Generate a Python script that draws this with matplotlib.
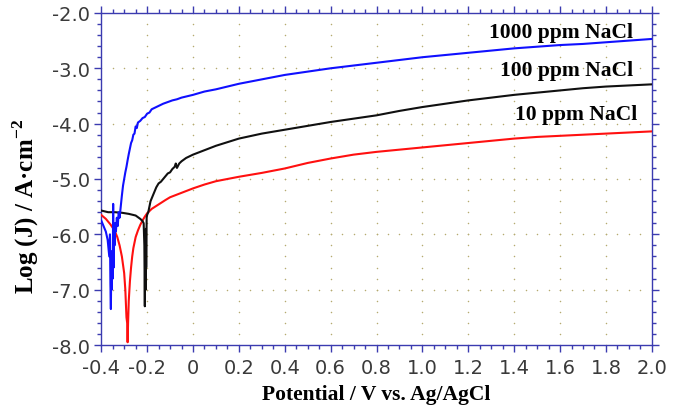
import numpy
from matplotlib import pyplot
from matplotlib.ticker import MultipleLocator, FixedLocator

# 1000 ppm NaCl (blue)
x_1000 = [-0.40, -0.39, -0.38, -0.372, -0.365, -0.362, -0.36, -0.358, -0.356, -0.354,
          -0.352, -0.35, -0.348, -0.346, -0.344, -0.342, -0.34, -0.336, -0.332, -0.328,
          -0.324, -0.32, -0.315, -0.31, -0.305, -0.30, -0.295, -0.29, -0.285, -0.28,
          -0.275, -0.27, -0.265, -0.26, -0.255, -0.25, -0.245, -0.24, -0.23, -0.22,
          -0.21, -0.20, -0.19, -0.18, -0.17, -0.16, -0.15, -0.13, -0.11, -0.09,
          -0.07, -0.05, -0.03, 0.0, 0.05, 0.1, 0.15, 0.2, 0.3, 0.4,
          0.5, 0.6, 0.7, 0.8, 0.9, 1.0, 1.1, 1.2, 1.3, 1.4,
          1.5, 1.6, 1.7, 1.8, 1.9, 2.0]
y_1000 = [-5.75, -5.85, -5.95, -6.1, -6.4, -6.0, -6.9, -7.35, -6.5, -7.0,
          -6.3, -6.8, -5.45, -6.6, -5.9, -6.2, -5.8, -5.95, -5.7, -5.85,
          -5.6, -5.7, -5.5, -5.3, -5.12, -5.0, -4.88, -4.78, -4.66, -4.55,
          -4.45, -4.35, -4.3, -4.2, -4.18, -4.05, -4.08, -3.98, -3.95, -3.9,
          -3.88, -3.82, -3.8, -3.74, -3.72, -3.7, -3.68, -3.64, -3.61, -3.58,
          -3.56, -3.53, -3.51, -3.48, -3.42, -3.38, -3.33, -3.28, -3.2, -3.12,
          -3.06, -3.0, -2.95, -2.9, -2.85, -2.8, -2.76, -2.72, -2.68, -2.64,
          -2.61, -2.58, -2.56, -2.53, -2.5, -2.47]

# 100 ppm NaCl (black)
x_100 = [-0.40, -0.37, -0.34, -0.31, -0.28, -0.25, -0.23, -0.22, -0.215, -0.212,
         -0.21, -0.208, -0.206, -0.205, -0.204, -0.202, -0.20, -0.195, -0.19, -0.185,
         -0.18, -0.17, -0.16, -0.15, -0.14, -0.13, -0.12, -0.11, -0.10, -0.09,
         -0.08, -0.075, -0.07, -0.06, -0.05, -0.03, 0.0, 0.05, 0.1, 0.2,
         0.3, 0.4, 0.5, 0.6, 0.7, 0.8, 0.9, 1.0, 1.1, 1.2,
         1.3, 1.4, 1.5, 1.6, 1.7, 1.8, 1.9, 2.0]
y_100 = [-5.57, -5.6, -5.6, -5.61, -5.63, -5.66, -5.72, -5.76, -5.8, -6.2,
         -7.3, -6.0, -7.0, -5.9, -6.6, -5.7, -5.65, -5.6, -5.5, -5.4,
         -5.35, -5.25, -5.15, -5.08, -5.05, -5.0, -4.95, -4.9, -4.88, -4.82,
         -4.78, -4.72, -4.8, -4.72, -4.68, -4.62, -4.56, -4.48, -4.4, -4.27,
         -4.18, -4.11, -4.04, -3.97, -3.91, -3.85, -3.77, -3.7, -3.64, -3.58,
         -3.53, -3.48, -3.44, -3.4, -3.36, -3.33, -3.31, -3.29]

# 10 ppm NaCl (red)
x_10 = [-0.40, -0.38, -0.36, -0.35, -0.34, -0.33, -0.32, -0.31, -0.30, -0.295,
        -0.29, -0.287, -0.285, -0.283, -0.28, -0.275, -0.27, -0.265, -0.26, -0.25,
        -0.24, -0.23, -0.22, -0.21, -0.20, -0.18, -0.15, -0.12, -0.10, -0.05,
        0.0, 0.05, 0.1, 0.2, 0.3, 0.4, 0.5, 0.6, 0.7, 0.8,
        0.9, 1.0, 1.1, 1.2, 1.3, 1.4, 1.5, 1.6, 1.7, 1.8,
        1.9, 2.0]
y_10 = [-5.65, -5.72, -5.82, -5.88, -5.95, -6.05, -6.2, -6.4, -6.7, -7.0,
        -7.5, -7.6, -7.95, -7.6, -7.2, -6.85, -6.6, -6.4, -6.25, -6.05,
        -5.93, -5.83, -5.75, -5.68, -5.62, -5.54, -5.46, -5.38, -5.33, -5.25,
        -5.17, -5.1, -5.04, -4.96, -4.89, -4.81, -4.71, -4.63, -4.56, -4.51,
        -4.47, -4.43, -4.39, -4.35, -4.31, -4.27, -4.24, -4.22, -4.2, -4.18,
        -4.16, -4.14]

labels = ['1000 ppm NaCl', '100 ppm NaCl', '10 ppm NaCl']
x_ticks = [-0.4, -0.2, 0, 0.2, 0.4, 0.6, 0.8, 1.0, 1.2, 1.4, 1.6, 1.8, 2.0]
x_tick_labels = ['-0.4', '-0.2', '0', '0.2', '0.4', '0.6', '0.8', '1.0', '1.2', '1.4',
                 '1.6', '1.8', '2.0']
y_ticks = [-8.0, -7.0, -6.0, -5.0, -4.0, -3.0, -2.0]
y_tick_labels = ['-8.0', '-7.0', '-6.0', '-5.0', '-4.0', '-3.0', '-2.0']

axis_blue = '#3b3bb0'
serif = ['Liberation Serif', 'DejaVu Serif']

pyplot.rcParams['mathtext.fontset'] = 'custom'
pyplot.rcParams['mathtext.rm'] = 'Liberation Serif'
pyplot.rcParams['mathtext.bf'] = 'Liberation Serif:bold'

fig = pyplot.figure(figsize=(6.84, 4.10), dpi=100)
ax = fig.add_axes([0.148, 0.156, 0.805, 0.810])

# dotted grid: dots along major lines at minor spacing
for gx in x_ticks[1:-1]:
    gy = numpy.arange(-8.0, -1.99, 0.2)
    ax.scatter(numpy.full(len(gy), gx), gy, s=1.2, color='#b5aa70', lw=0, zorder=1)
for gy in y_ticks[1:-1]:
    gx = numpy.arange(-0.4, 2.001, 0.05)
    ax.scatter(gx, numpy.full(len(gx), gy), s=1.2, color='#b5aa70', lw=0, zorder=1)

ax.plot(x_10, y_10, color='#ff1010', lw=1.5, zorder=3)
ax.plot(x_100, y_100, color='#101010', lw=1.5, zorder=4)
ax.plot(x_1000, y_1000, color='#1010ff', lw=1.5, zorder=5)

ax.text(1.92, -2.34, labels[0], ha='right', va='center', fontsize=15.5,
        fontweight='bold', family=serif)
ax.text(1.92, -3.03, labels[1], ha='right', va='center', fontsize=15.5,
        fontweight='bold', family=serif)
ax.text(1.935, -3.83, labels[2], ha='right', va='center', fontsize=15.5,
        fontweight='bold', family=serif)

ax.set_xlim(-0.4, 2.0)
ax.set_ylim(-8.0, -2.0)
ax.xaxis.set_major_locator(FixedLocator(x_ticks))
ax.set_xticklabels(x_tick_labels)
ax.xaxis.set_minor_locator(MultipleLocator(0.05))
ax.yaxis.set_major_locator(FixedLocator(y_ticks))
ax.set_yticklabels(y_tick_labels)
ax.yaxis.set_minor_locator(MultipleLocator(0.2))

for spine in ax.spines.values():
    spine.set_color(axis_blue)
    spine.set_linewidth(1.0)
ax.tick_params(which='both', direction='out', color=axis_blue, top=True, right=True,
               labelsize=14, labelcolor='#3a3a3a')
ax.tick_params(which='major', length=5, width=1.0)
ax.tick_params(which='minor', length=3, width=1.0)
ax.tick_params(axis='x', pad=4)
ax.tick_params(axis='y', pad=3)

ax.set_xlabel('Potential / V vs. Ag/AgCl', fontsize=15.5, fontweight='bold',
              family=serif, va='center')
ax.xaxis.set_label_coords(0.5, -0.148)
ax.set_ylabel('Log (J) / A\u00b7cm$^{\\mathbf{-2}}$', fontsize=18, fontweight='bold',
              family=serif, va='center')
ax.yaxis.set_label_coords(-0.138, 0.42)

pyplot.savefig('out.png', dpi=100)
